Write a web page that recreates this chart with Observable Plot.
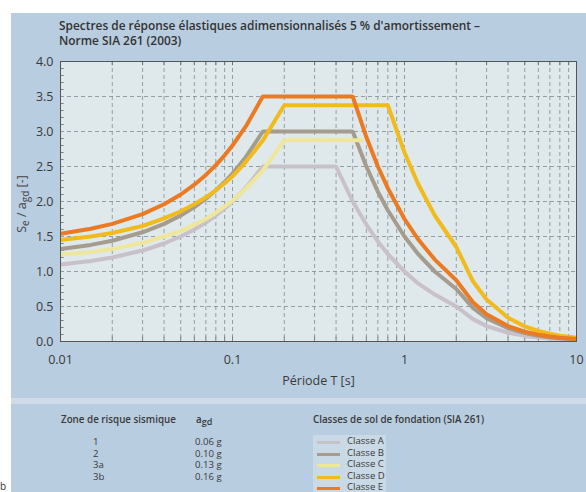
<!DOCTYPE html>
<html>
<head>
<meta charset="utf-8">
<script src="https://cdn.jsdelivr.net/npm/d3@7"></script>
<script src="https://cdn.jsdelivr.net/npm/@observablehq/plot@0.6"></script>
<style>
  body { margin:0; width:586px; height:492px; background:#fff; position:relative; overflow:hidden; font-family:"Open Sans", sans-serif; color:#3a3a3a; }
  .abs { position:absolute; }
  #title { left:59px; top:18px; font-size:11.9px; font-weight:600; line-height:15px; color:#333; white-space:nowrap; }
  #ylab { left:21px; top:204px; transform:translate(-50%,-50%) rotate(-90deg); font-size:12.5px; white-space:nowrap; color:#444; }
  #ylab sub { font-size:10px; vertical-align:-3px; line-height:0; }
  .leg { font-size:9.6px; line-height:11.5px; white-space:nowrap; color:#3a3a3a; }
  .head { font-size:9.8px; font-weight:600; white-space:nowrap; color:#3a3a3a; }
  .head sub { font-size:9px; vertical-align:-2px; line-height:0; }
</style>
</head>
<body>
<div class="abs" style="left:11px;top:13px;width:575px;height:385px;background:#b8cde0"></div>
<div class="abs" style="left:11px;top:398px;width:575px;height:6px;background:#cfdce8"></div>
<div class="abs" style="left:11px;top:404px;width:575px;height:88px;background:#b8cde0"></div>
<div id="title" class="abs">Spectres de réponse élastiques adimensionnalisés 5 % d'amortissement –<br>Norme SIA 261 (2003)</div>
<div id="chart" class="abs" style="left:0;top:49px"></div>
<div id="ylab" class="abs">S<sub>e</sub> / a<sub>gd</sub> [-]</div>
<div id="bottom"></div>
<script>
// ---- data ----
const classNames = ["Classe A", "Classe B", "Classe C", "Classe D", "Classe E"];
const classColors = ["#c8c1ca", "#a59c8d", "#eee79b", "#f1ba1d", "#eb7a22"];

const periodA = [0.01,0.015,0.02,0.03,0.04,0.05,0.06,0.07,0.08,0.09,0.1,0.12,0.15,0.4,0.5,0.6,0.7,0.8,1,1.2,1.5,2,2.5,3,4,5,6,7,8,10];
const valueA  = [1.10,1.15,1.20,1.30,1.40,1.50,1.60,1.70,1.80,1.90,2.00,2.20,2.50,2.50,2.00,1.67,1.43,1.25,1.00,0.83,0.67,0.50,0.32,0.22,0.125,0.08,0.056,0.041,0.031,0.02];

const periodB = [0.01,0.015,0.02,0.03,0.04,0.05,0.06,0.07,0.08,0.09,0.1,0.12,0.15,0.5,0.6,0.7,0.8,1,1.2,1.5,2,2.5,3,4,5,6,7,8,10];
const valueB  = [1.32,1.38,1.44,1.56,1.68,1.80,1.92,2.04,2.16,2.28,2.40,2.64,3.00,3.00,2.50,2.14,1.875,1.50,1.25,1.00,0.75,0.48,0.333,0.19,0.12,0.083,0.061,0.047,0.03];

const periodC = [0.01,0.015,0.02,0.03,0.04,0.05,0.06,0.07,0.08,0.09,0.1,0.12,0.15,0.2,0.58];
const valueC  = [1.24,1.28,1.32,1.41,1.50,1.58,1.67,1.75,1.84,1.93,2.01,2.19,2.44,2.875,2.875];

const periodD = [0.01,0.015,0.02,0.03,0.04,0.05,0.06,0.07,0.08,0.09,0.1,0.12,0.15,0.2,0.8,1,1.2,1.5,2,2.5,3,4,5,6,7,8,10];
const valueD  = [1.45,1.50,1.55,1.65,1.76,1.86,1.96,2.06,2.16,2.26,2.36,2.57,2.87,3.375,3.375,2.70,2.25,1.80,1.35,0.86,0.60,0.34,0.216,0.15,0.11,0.084,0.054];

const periodE = [0.01,0.015,0.02,0.03,0.04,0.05,0.06,0.07,0.08,0.09,0.1,0.12,0.15,0.5,0.6,0.7,0.8,1,1.2,1.5,2,2.5,3,4,5,6,7,8,10];
const valueE  = [1.54,1.61,1.68,1.82,1.96,2.10,2.24,2.38,2.52,2.66,2.80,3.08,3.50,3.50,2.92,2.50,2.19,1.75,1.46,1.17,0.875,0.56,0.39,0.22,0.14,0.097,0.071,0.055,0.035];

const xTickValues = [0.01, 0.1, 1, 10];
const xTickLabels = ["0.01", "0.1", "1", "10"];
const yTickValues = [0, 0.5, 1, 1.5, 2, 2.5, 3, 3.5, 4];
const minorPeriods = [0.02,0.03,0.04,0.05,0.06,0.07,0.08,0.09,0.1,0.2,0.3,0.4,0.5,0.6,0.7,0.8,0.9,1,2,3,4,5,6,7,8,9];
const yMinor = [0.1,0.2,0.3,0.4,0.6,0.7,0.8,0.9,1.1,1.2,1.3,1.4,1.6,1.7,1.8,1.9,2.1,2.2,2.3,2.4,2.6,2.7,2.8,2.9,3.1,3.2,3.3,3.4,3.6,3.7,3.8,3.9];
const yGrid = [0.5, 1, 1.5, 2, 2.5, 3, 3.5];

const zones = ["1", "2", "3a", "3b"];
const agd = ["0.06 g", "0.10 g", "0.13 g", "0.16 g"];

// ---- build table ----
const series = [[periodA,valueA],[periodB,valueB],[periodC,valueC],[periodD,valueD],[periodE,valueE]];
const rows = [];
series.forEach(([ts, vs], i) => ts.forEach((t, j) => rows.push({T: t, v: vs[j], cls: classNames[i]})));
const xTicks = xTickValues.map((t, i) => ({T: t, label: xTickLabels[i]}));

const gridStroke = "#7d8b92";
const chart = Plot.plot({
  width: 586, height: 346,
  marginLeft: 60, marginRight: 10, marginTop: 12, marginBottom: 54,
  style: { background: "transparent", fontFamily: "'Open Sans', sans-serif", fontSize: "12.5px", color: "#3a3a3a" },
  x: { type: "log", domain: [0.01, 10], axis: null },
  y: { domain: [0, 4], axis: null },
  color: { domain: classNames, range: classColors },
  marks: [
    Plot.frame({ fill: "#dfe9ec", stroke: null }),
    Plot.ruleX(minorPeriods, { stroke: gridStroke, strokeWidth: 0.8, strokeDasharray: "4,3" }),
    Plot.ruleY(yGrid, { stroke: gridStroke, strokeWidth: 0.8, strokeDasharray: "4,3" }),
    Plot.ruleX(minorPeriods, { y1: 0, y2: 0.06, stroke: "#666", strokeWidth: 0.8 }),
    Plot.ruleX(minorPeriods, { y1: 3.94, y2: 4, stroke: "#666", strokeWidth: 0.8 }),
    Plot.ruleY(yMinor, { x1: 0.01, x2: 0.0105, stroke: "#666", strokeWidth: 0.8 }),
    Plot.line(rows, { x: "T", y: "v", z: "cls", stroke: "cls", strokeWidth: 4, strokeLinejoin: "miter", strokeLinecap: "butt" }),
    Plot.frame({ stroke: "#555", strokeWidth: 1 }),
    Plot.text(xTicks, { x: "T", y: 0, text: "label", dy: 18, fontSize: 12.5, fill: "#3a3a3a" }),
    Plot.axisY({ ticks: yTickValues, tickFormat: d3.format(".1f"), tickSize: 0, tickPadding: 7, fontSize: 12.5, fill: "#3a3a3a", label: null }),
    Plot.text(["Période T [s]"], { frameAnchor: "bottom", dy: 43, fontSize: 12.5, fill: "#3a3a3a" })
  ]
});
document.getElementById("chart").appendChild(chart);

// ---- bottom legend ----
const b = document.getElementById("bottom");
function add(html, left, top, cls, extra) {
  const d = document.createElement("div");
  d.className = "abs " + cls;
  d.style.left = left + "px"; d.style.top = top + "px";
  if (extra) Object.assign(d.style, extra);
  d.innerHTML = html;
  b.appendChild(d);
  return d;
}
add("Zone de risque sismique", 61, 413, "head");
add("a<sub>gd</sub>", 196, 413, "head");
add("Classes de sol de fondation (SIA 261)", 313, 413, "head");
add(zones.join("<br>"), 93, 436, "leg");
add(agd.join("<br>"), 195, 436, "leg");
add("", 313, 435, "", { width: "73px", height: "57px", background: "#c9d9e6" });
classNames.forEach((c, i) => {
  add("", 317, 441 + i * 11.5, "", { width: "23px", height: "3px", background: classColors[i] });
});
add(classNames.join("<br>"), 347, 435, "leg");
add("b", 0, 481, "leg", { fontSize: "10px", color: "#333" });
</script>
</body>
</html>
